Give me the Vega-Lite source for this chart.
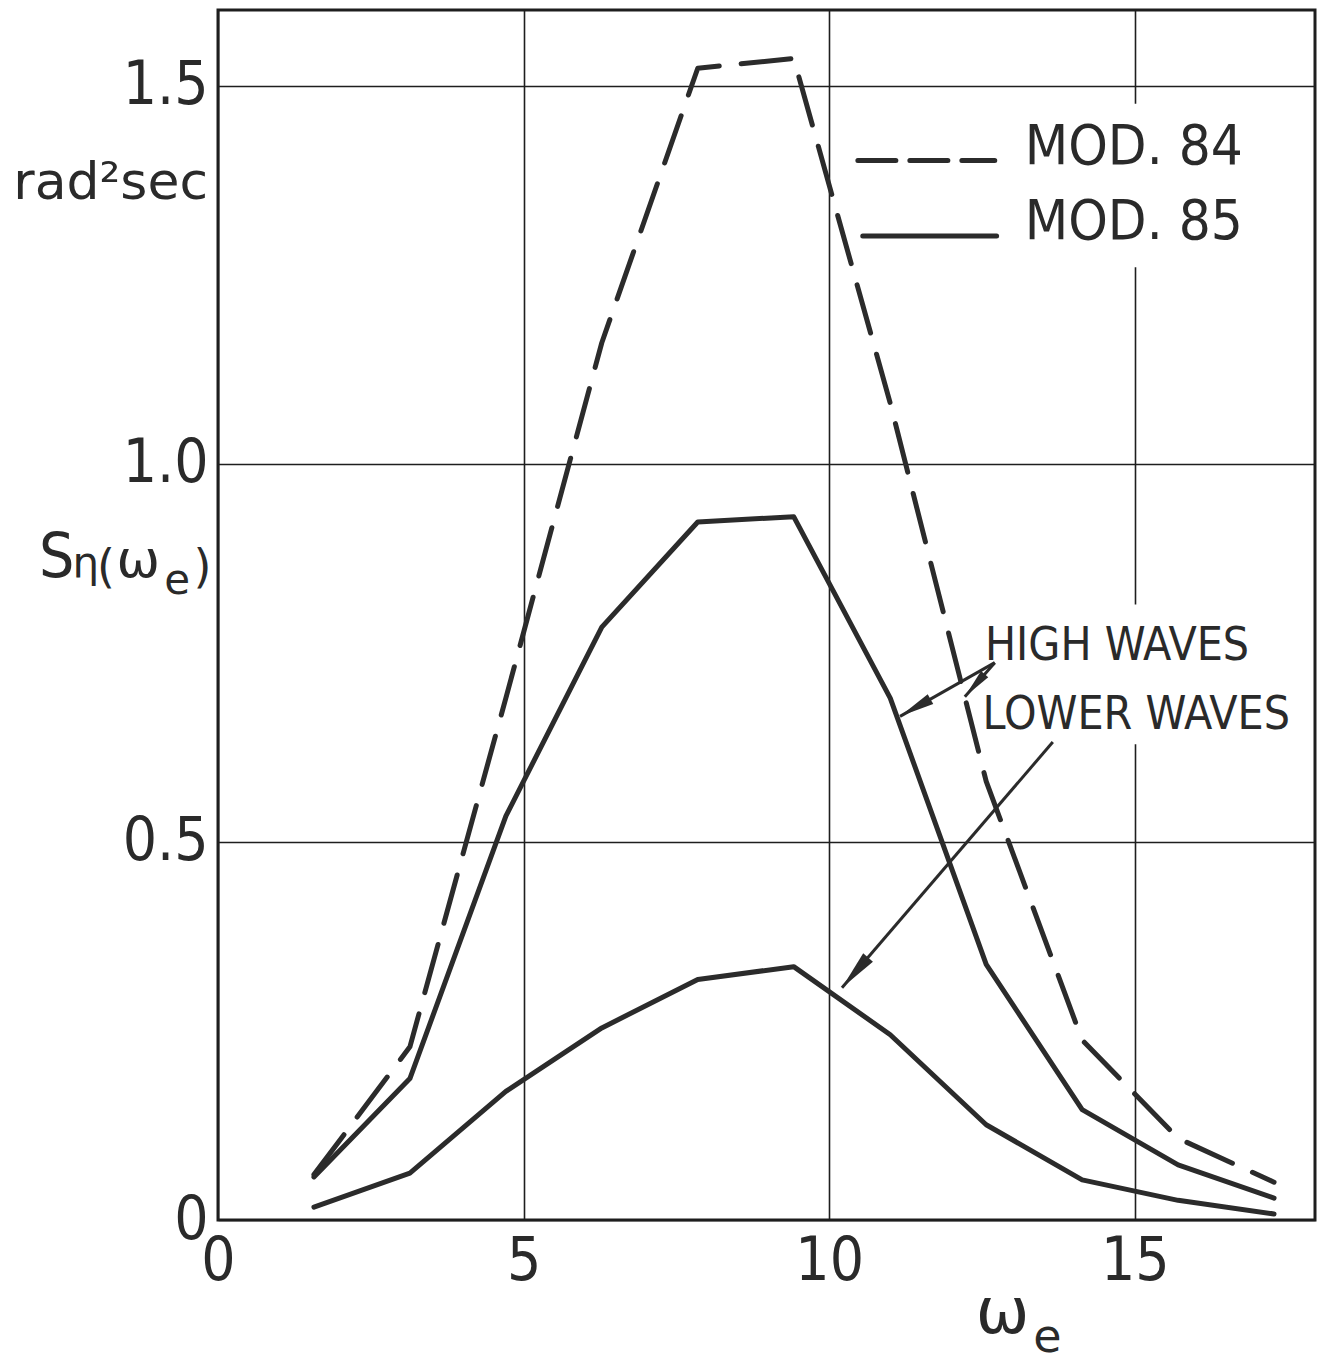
{
  "$schema": "https://vega.github.io/schema/vega-lite/v6.json",
  "width": 1097,
  "height": 1210,
  "autosize": {"type": "none"},
  "padding": {"left": 218, "top": 10, "right": 11, "bottom": 145},
  "background": "white",
  "config": {
    "view": {"stroke": "#1e1e1e", "strokeWidth": 3},
    "axis": {
      "domain": false,
      "ticks": false,
      "grid": true,
      "gridColor": "#1e1e1e",
      "gridWidth": 1.6,
      "gridOpacity": 1,
      "labelFont": "Liberation Sans Narrow, DejaVu Sans Condensed, sans-serif",
      "labelFontSize": 60,
      "labelColor": "#2a2a2a",
      "title": null
    }
  },
  "datasets": {
    "spectra": [
      {"w": 1.57, "s": 0.06, "series": "MOD.84"},
      {"w": 3.14, "s": 0.229, "series": "MOD.84"},
      {"w": 4.71, "s": 0.69, "series": "MOD.84"},
      {"w": 6.28, "s": 1.16, "series": "MOD.84"},
      {"w": 7.85, "s": 1.523, "series": "MOD.84"},
      {"w": 9.42, "s": 1.536, "series": "MOD.84"},
      {"w": 11.0, "s": 1.08, "series": "MOD.84"},
      {"w": 12.57, "s": 0.58, "series": "MOD.84"},
      {"w": 14.14, "s": 0.238, "series": "MOD.84"},
      {"w": 15.71, "s": 0.108, "series": "MOD.84"},
      {"w": 17.28, "s": 0.05, "series": "MOD.84"},
      {"w": 1.57, "s": 0.057, "series": "MOD.85 high waves"},
      {"w": 3.14, "s": 0.187, "series": "MOD.85 high waves"},
      {"w": 4.71, "s": 0.534, "series": "MOD.85 high waves"},
      {"w": 6.28, "s": 0.784, "series": "MOD.85 high waves"},
      {"w": 7.85, "s": 0.923, "series": "MOD.85 high waves"},
      {"w": 9.42, "s": 0.93, "series": "MOD.85 high waves"},
      {"w": 11.0, "s": 0.69, "series": "MOD.85 high waves"},
      {"w": 12.57, "s": 0.338, "series": "MOD.85 high waves"},
      {"w": 14.14, "s": 0.146, "series": "MOD.85 high waves"},
      {"w": 15.71, "s": 0.073, "series": "MOD.85 high waves"},
      {"w": 17.28, "s": 0.029, "series": "MOD.85 high waves"},
      {"w": 1.57, "s": 0.017, "series": "MOD.85 lower waves"},
      {"w": 3.14, "s": 0.062, "series": "MOD.85 lower waves"},
      {"w": 4.71, "s": 0.17, "series": "MOD.85 lower waves"},
      {"w": 6.28, "s": 0.254, "series": "MOD.85 lower waves"},
      {"w": 7.85, "s": 0.318, "series": "MOD.85 lower waves"},
      {"w": 9.42, "s": 0.335, "series": "MOD.85 lower waves"},
      {"w": 11.0, "s": 0.245, "series": "MOD.85 lower waves"},
      {"w": 12.57, "s": 0.126, "series": "MOD.85 lower waves"},
      {"w": 14.14, "s": 0.053, "series": "MOD.85 lower waves"},
      {"w": 15.71, "s": 0.026, "series": "MOD.85 lower waves"},
      {"w": 17.28, "s": 0.008, "series": "MOD.85 lower waves"}
    ],
    "backdrops": [
      {"x": 13.2, "x2": 16.6, "y": 1.26, "y2": 1.476},
      {"x": 12.5, "x2": 17.6, "y": 0.629, "y2": 0.814}
    ],
    "legendKeys": [
      {"x": 10.47, "x2": 12.71, "y": 1.401, "series": "MOD.84"},
      {"x": 10.55, "x2": 12.74, "y": 1.301, "series": "MOD.85"}
    ],
    "arrows": [
      {"x": 12.71, "y": 0.737, "x2": 11.16, "y2": 0.666, "target": "high waves MOD.85"},
      {"x": 12.71, "y": 0.737, "x2": 12.22, "y2": 0.692, "target": "high waves MOD.84"},
      {"x": 13.66, "y": 0.632, "x2": 10.21, "y2": 0.307, "target": "lower waves"}
    ],
    "labels": [
      {"text": "MOD. 84", "x": 13.2, "y": 1.397, "kind": "legend"},
      {"text": "MOD. 85", "x": 13.2, "y": 1.2975, "kind": "legend"},
      {"text": "HIGH WAVES", "x": 12.55, "y": 0.741, "kind": "note"},
      {"text": "LOWER WAVES", "x": 12.51, "y": 0.649, "kind": "note"},
      {"text": "rad²sec", "x": -3.35, "y": 1.3505, "kind": "unit"},
      {"text": "S", "x": -2.93, "y": 0.85, "kind": "S"},
      {"text": "η", "x": -2.38, "y": 0.85, "kind": "sub"},
      {"text": "(", "x": -1.98, "y": 0.843, "kind": "paren"},
      {"text": ")", "x": -0.4, "y": 0.843, "kind": "paren"},
      {"text": "ω", "x": -1.66, "y": 0.85, "kind": "omega"},
      {"text": "e", "x": -0.88, "y": 0.8275, "kind": "sub"},
      {"text": "ω", "x": 12.4, "y": -0.1496, "kind": "xomega"},
      {"text": "e", "x": 13.34, "y": -0.1748, "kind": "xsub"}
    ]
  },
  "layer": [
    {
      "data": {"name": "backdrops"},
      "mark": {"type": "rect", "fill": "white", "stroke": null},
      "encoding": {
        "x": {"field": "x", "type": "quantitative", "scale": {"domain": [0, 17.95], "nice": false, "zero": false}, "axis": {"values": [0, 5, 10, 15], "format": "d", "labelBaseline": "top", "labelPadding": 12, "labelFlush": false, "labelAlign": "center"}},
        "x2": {"field": "x2"},
        "y": {"field": "y", "type": "quantitative", "scale": {"domain": [0, 1.6], "nice": false}, "axis": {"values": [0, 0.5, 1, 1.5], "labelPadding": 10, "labelExpr": "datum.value == 0 ? '0' : format(datum.value, '.1f')"}},
        "y2": {"field": "y2"}
      }
    },
    {
      "data": {"name": "spectra"},
      "transform": [{"filter": "datum.series != 'MOD.84'"}],
      "mark": {"type": "line", "color": "#2b2b2b", "strokeWidth": 5, "strokeCap": "round", "strokeJoin": "round"},
      "encoding": {
        "x": {"field": "w", "type": "quantitative"},
        "y": {"field": "s", "type": "quantitative"},
        "detail": {"field": "series"}
      }
    },
    {
      "data": {"name": "spectra"},
      "transform": [{"filter": "datum.series == 'MOD.84'"}],
      "mark": {"type": "line", "color": "#2b2b2b", "strokeWidth": 5, "strokeCap": "round", "strokeJoin": "round", "strokeDash": [50, 22]},
      "encoding": {
        "x": {"field": "w", "type": "quantitative"},
        "y": {"field": "s", "type": "quantitative"}
      }
    },
    {
      "data": {"name": "legendKeys"},
      "transform": [{"filter": "datum.series == 'MOD.84'"}],
      "mark": {"type": "rule", "color": "#2b2b2b", "strokeWidth": 5, "strokeCap": "round", "strokeDash": [38, 14]},
      "encoding": {
        "x": {"field": "x", "type": "quantitative"},
        "x2": {"field": "x2"},
        "y": {"field": "y", "type": "quantitative"}
      }
    },
    {
      "data": {"name": "legendKeys"},
      "transform": [{"filter": "datum.series == 'MOD.85'"}],
      "mark": {"type": "rule", "color": "#2b2b2b", "strokeWidth": 5, "strokeCap": "round"},
      "encoding": {
        "x": {"field": "x", "type": "quantitative"},
        "x2": {"field": "x2"},
        "y": {"field": "y", "type": "quantitative"}
      }
    },
    {
      "data": {"name": "arrows"},
      "mark": {"type": "rule", "color": "#2b2b2b", "strokeWidth": 3},
      "encoding": {
        "x": {"field": "x", "type": "quantitative"},
        "y": {"field": "y", "type": "quantitative"},
        "x2": {"field": "x2"},
        "y2": {"field": "y2"}
      }
    },
    {
      "data": {"name": "arrows"},
      "transform": [{"filter": "datum.target == 'high waves MOD.85'"}],
      "mark": {"type": "point", "shape": "M0,0L0.16,1L-0.16,1Z", "filled": true, "color": "#2b2b2b", "opacity": 1, "size": 4900, "angle": 240.4},
      "encoding": {
        "x": {"field": "x2", "type": "quantitative"},
        "y": {"field": "y2", "type": "quantitative"}
      }
    },
    {
      "data": {"name": "arrows"},
      "transform": [{"filter": "datum.target == 'high waves MOD.84'"}],
      "mark": {"type": "point", "shape": "M0,0L0.16,1L-0.16,1Z", "filled": true, "color": "#2b2b2b", "opacity": 1, "size": 3600, "angle": 221.4},
      "encoding": {
        "x": {"field": "x2", "type": "quantitative"},
        "y": {"field": "y2", "type": "quantitative"}
      }
    },
    {
      "data": {"name": "arrows"},
      "transform": [{"filter": "datum.target == 'lower waves'"}],
      "mark": {"type": "point", "shape": "M0,0L0.16,1L-0.16,1Z", "filled": true, "color": "#2b2b2b", "opacity": 1, "size": 6400, "angle": 220.7},
      "encoding": {
        "x": {"field": "x2", "type": "quantitative"},
        "y": {"field": "y2", "type": "quantitative"}
      }
    },
    {
      "data": {"name": "labels"},
      "transform": [{"filter": "datum.kind == 'legend'"}],
      "mark": {"type": "text", "align": "left", "baseline": "alphabetic", "font": "Liberation Sans Narrow, DejaVu Sans Condensed, sans-serif", "fontSize": 56, "color": "#2a2a2a"},
      "encoding": {"x": {"field": "x", "type": "quantitative"}, "y": {"field": "y", "type": "quantitative"}, "text": {"field": "text"}}
    },
    {
      "data": {"name": "labels"},
      "transform": [{"filter": "datum.kind == 'note'"}],
      "mark": {"type": "text", "align": "left", "baseline": "alphabetic", "font": "Liberation Sans Narrow, DejaVu Sans Condensed, sans-serif", "fontSize": 46, "color": "#2a2a2a"},
      "encoding": {"x": {"field": "x", "type": "quantitative"}, "y": {"field": "y", "type": "quantitative"}, "text": {"field": "text"}}
    },
    {
      "data": {"name": "labels"},
      "transform": [{"filter": "datum.kind == 'unit'"}],
      "mark": {"type": "text", "align": "left", "baseline": "alphabetic", "font": "DejaVu Sans", "fontSize": 52, "color": "#2a2a2a"},
      "encoding": {"x": {"field": "x", "type": "quantitative"}, "y": {"field": "y", "type": "quantitative"}, "text": {"field": "text"}}
    },
    {
      "data": {"name": "labels"},
      "transform": [{"filter": "datum.kind == 'S'"}],
      "mark": {"type": "text", "align": "left", "baseline": "alphabetic", "font": "Liberation Sans Narrow, DejaVu Sans Condensed, sans-serif", "fontSize": 62, "color": "#2a2a2a"},
      "encoding": {"x": {"field": "x", "type": "quantitative"}, "y": {"field": "y", "type": "quantitative"}, "text": {"field": "text"}}
    },
    {
      "data": {"name": "labels"},
      "transform": [{"filter": "datum.kind == 'sub'"}],
      "mark": {"type": "text", "align": "left", "baseline": "alphabetic", "font": "DejaVu Sans", "fontSize": 42, "color": "#2a2a2a"},
      "encoding": {"x": {"field": "x", "type": "quantitative"}, "y": {"field": "y", "type": "quantitative"}, "text": {"field": "text"}}
    },
    {
      "data": {"name": "labels"},
      "transform": [{"filter": "datum.kind == 'paren'"}],
      "mark": {"type": "text", "align": "left", "baseline": "alphabetic", "font": "DejaVu Sans", "fontSize": 46, "color": "#2a2a2a"},
      "encoding": {"x": {"field": "x", "type": "quantitative"}, "y": {"field": "y", "type": "quantitative"}, "text": {"field": "text"}}
    },
    {
      "data": {"name": "labels"},
      "transform": [{"filter": "datum.kind == 'omega'"}],
      "mark": {"type": "text", "align": "left", "baseline": "alphabetic", "font": "DejaVu Sans", "fontSize": 52, "color": "#2a2a2a"},
      "encoding": {"x": {"field": "x", "type": "quantitative"}, "y": {"field": "y", "type": "quantitative"}, "text": {"field": "text"}}
    },
    {
      "data": {"name": "labels"},
      "transform": [{"filter": "datum.kind == 'xomega'"}],
      "mark": {"type": "text", "align": "left", "baseline": "alphabetic", "font": "DejaVu Sans", "fontSize": 64, "color": "#2a2a2a"},
      "encoding": {"x": {"field": "x", "type": "quantitative"}, "y": {"field": "y", "type": "quantitative"}, "text": {"field": "text"}}
    },
    {
      "data": {"name": "labels"},
      "transform": [{"filter": "datum.kind == 'xsub'"}],
      "mark": {"type": "text", "align": "left", "baseline": "alphabetic", "font": "DejaVu Sans", "fontSize": 46, "color": "#2a2a2a"},
      "encoding": {"x": {"field": "x", "type": "quantitative"}, "y": {"field": "y", "type": "quantitative"}, "text": {"field": "text"}}
    }
  ]
}
